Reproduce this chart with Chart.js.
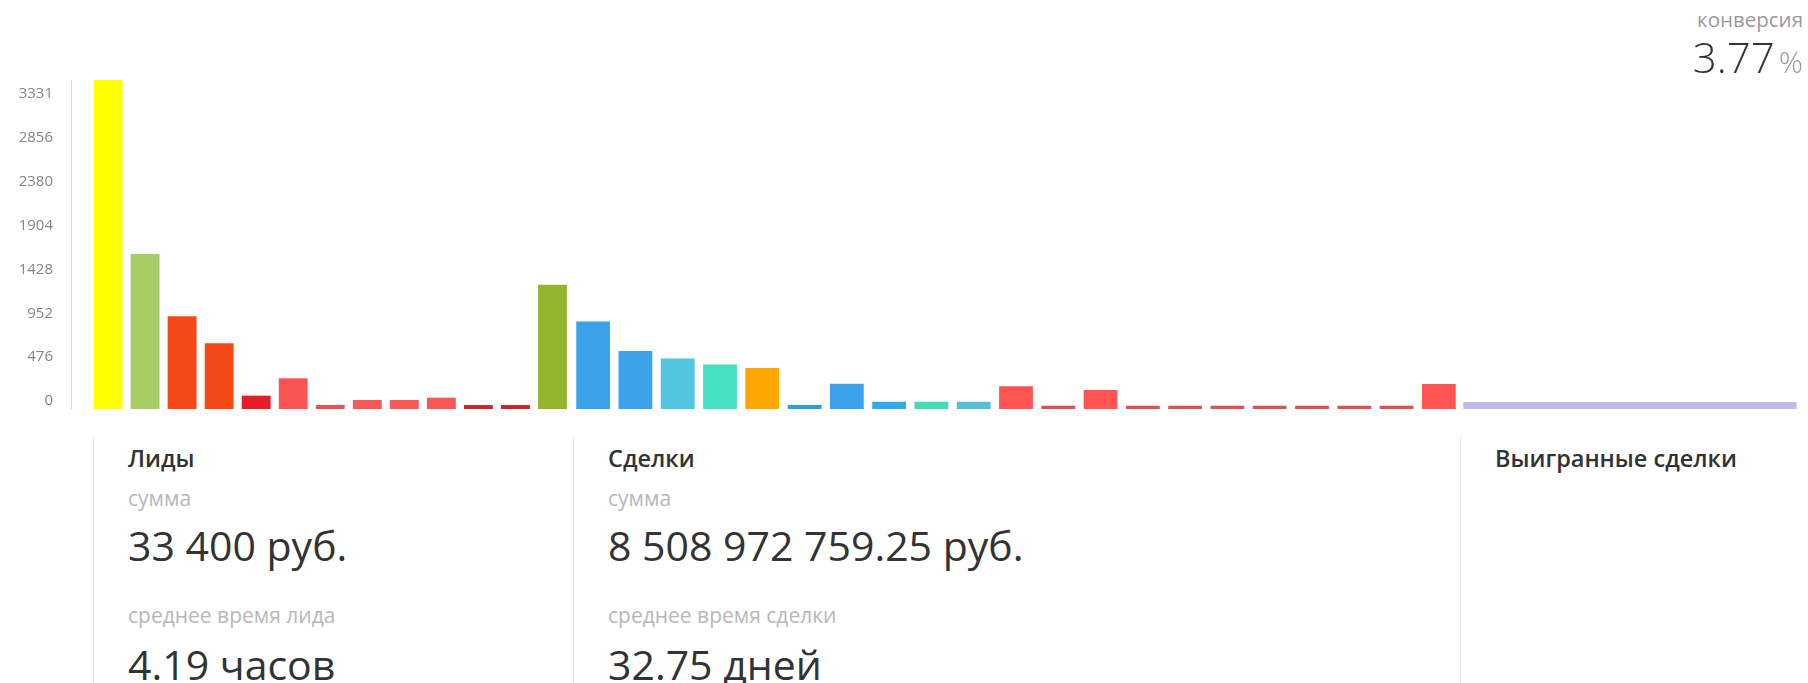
<!DOCTYPE html>
<html lang="ru">
<head>
<meta charset="utf-8">
<title>Воронка: лиды и сделки</title>
<script src="https://cdn.jsdelivr.net/npm/chart.js@4.4.1/dist/chart.umd.min.js"></script>
<style>
  html, body { margin: 0; padding: 0; background: #fff; }
  body { width: 1808px; height: 683px; overflow: hidden; position: relative; font-family: "Open Sans", "Noto Sans", sans-serif; color: #333; }
  .chart { position: absolute; top: 80px; height: 329px; }
  .conv { position: absolute; right: 5px; top: 0; text-align: right; }
  .conv-label { position: absolute; right: 0; top: 9px; font-size: 20.5px; line-height: 1; color: #999; white-space: nowrap; }
  .conv-value { position: absolute; right: 0; top: 36px; font-size: 42px; line-height: 1; font-weight: 300; white-space: nowrap; }
  .conv-value span { font-size: 30px; color: #999; margin-left: 4px; }
  .panel { position: absolute; top: 437px; bottom: 0; border-left: 1px solid #e8e8e8; }
  .panel div { position: absolute; left: 34px; line-height: 1; white-space: nowrap; }
  .title { top: 10px; font-size: 23.5px; font-weight: 600; }
  .caption { font-size: 21px; color: #b8b8b8; }
  .big { font-size: 41px; font-weight: 400; }
  .c1 { top: 51px; } .b1 { top: 88px; } .c2 { top: 168px; } .b2 { top: 207px; }
</style>
</head>
<body>
<div class="chart" style="left:0;width:571px"><canvas id="leads"></canvas></div>
<div class="chart" style="left:572px;width:888px"><canvas id="deals"></canvas></div>
<div class="chart" style="left:1460px;width:340px"><canvas id="won"></canvas></div>

<div class="conv">
  <div class="conv-label">конверсия</div>
  <div class="conv-value">3.77<span>%</span></div>
</div>

<div class="panel" style="left:93px;width:480px">
  <div class="title">Лиды</div>
  <div class="caption c1">сумма</div>
  <div class="big b1">33 400 руб.</div>
  <div class="caption c2">среднее время лида</div>
  <div class="big b2">4.19 часов</div>
</div>
<div class="panel" style="left:573px;width:887px">
  <div class="title">Сделки</div>
  <div class="caption c1">сумма</div>
  <div class="big b1">8 508 972 759.25 руб.</div>
  <div class="caption c2">среднее время сделки</div>
  <div class="big b2">32.75 дней</div>
</div>
<div class="panel" style="left:1460px;width:348px">
  <div class="title">Выигранные сделки</div>
</div>

<script>
// y axis: shared by all three sections
const yTicks = [0, 476, 952, 1428, 1904, 2380, 2856, 3331];
const yMax = 3570;

// lead stages
const leadStages = ['этап 1', 'этап 2', 'этап 3', 'этап 4', 'этап 5', 'этап 6', 'этап 7',
  'этап 8', 'этап 9', 'этап 10', 'этап 11', 'этап 12', 'сконвертирован'];
const leadValues = [3570, 1683, 1006, 713, 145, 333, 43, 98, 98, 123, 43, 43, 1347];
const leadColors = ['#ffff00', '#a5cf64', '#f54a17', '#f54a17', '#e51f2a', '#fb5454', '#e8505a',
  '#f75858', '#f75858', '#f75858', '#c8282c', '#c8282c', '#93b52e'];

// deal stages
const dealStages = ['этап 1', 'этап 2', 'этап 3', 'этап 4', 'этап 5', 'этап 6', 'этап 7',
  'этап 8', 'этап 9', 'этап 10', 'этап 11', 'этап 12', 'этап 13', 'этап 14', 'этап 15',
  'этап 16', 'этап 17', 'этап 18', 'этап 19', 'этап 20', 'этап 21'];
const dealValues = [949, 630, 547, 482, 446, 43, 275, 80, 80, 80, 246, 36, 206,
  36, 36, 36, 36, 36, 36, 36, 272];
const dealColors = ['#3aa3ec', '#3aa3ec', '#52c6e0', '#45e0c0', '#ffa600', '#2c9fd8', '#3aa3ec',
  '#34aae8', '#45dbb8', '#55bfd5', '#fe5452', '#dc5252', '#fe5452',
  '#dc5252', '#dc5252', '#dc5252', '#dc5252', '#dc5252', '#dc5252', '#dc5252', '#fe5452'];

// won deals
const wonStages = ['Выигранные сделки'];
const wonValues = [76];
const wonColors = ['#c4b8ea'];

const common = {
  responsive: true,
  maintainAspectRatio: false,
  animation: false,
  events: [],
  plugins: { legend: { display: false }, tooltip: { enabled: false } }
};

function yScale(show) {
  return {
    display: show,
    min: 0,
    max: yMax,
    afterBuildTicks: s => { s.ticks = yTicks.map(v => ({ value: v })); },
    afterFit: s => {
      s.paddingTop = 0;
      s.paddingBottom = 0;
      if (show) s.width = 71;
    },
    grid: { display: false, drawTicks: false },
    border: { display: show, color: '#dcdcdc' },
    ticks: {
      color: '#858585', font: { family: 'Open Sans', size: 15 }, padding: 18, labelOffset: -8,
      callback: v => String(v)
    }
  };
}

new Chart(document.getElementById('leads'), {
  type: 'bar',
  data: {
    labels: leadStages,
    datasets: [{
      data: leadValues.map((v, i) => ({ x: i, y: v })),
      backgroundColor: leadColors,
      barPercentage: 0.78,
      categoryPercentage: 1
    }]
  },
  options: {
    ...common,
    scales: {
      x: {
        type: 'linear', display: false, offset: false, min: -1, max: leadValues.length - 0.5,
        afterBuildTicks: s => { s.ticks = leadValues.map((v, i) => ({ value: i })); }
      },
      y: yScale(true)
    }
  }
});

new Chart(document.getElementById('deals'), {
  type: 'bar',
  data: {
    labels: dealStages,
    datasets: [{ data: dealValues, backgroundColor: dealColors, barPercentage: 0.8, categoryPercentage: 1 }]
  },
  options: { ...common, scales: { x: { display: false }, y: yScale(false) } }
});

new Chart(document.getElementById('won'), {
  type: 'bar',
  data: {
    labels: wonStages,
    datasets: [{ data: wonValues, backgroundColor: wonColors, barPercentage: 0.98, categoryPercentage: 1 }]
  },
  options: { ...common, scales: { x: { display: false }, y: yScale(false) } }
});
</script>
</body>
</html>
